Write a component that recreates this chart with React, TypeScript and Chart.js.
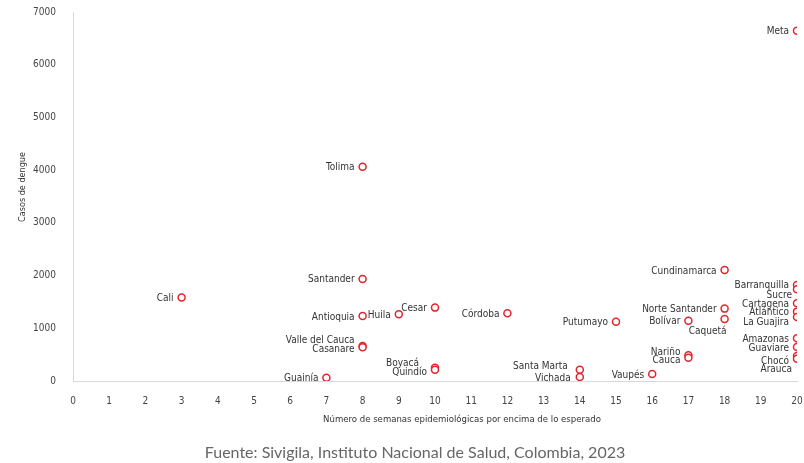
import React, { useEffect, useRef } from "react";
import { Chart, registerables } from "chart.js";

Chart.register(...registerables);

const DEPARTMENTS = [
  "Meta", "Tolima", "Santander", "Cali", "Antioquia", "Huila", "Cesar", "Córdoba",
  "Putumayo", "Valle del Cauca", "Casanare", "Boyacá", "Quindío", "Guainía",
  "Santa Marta", "Vichada", "Vaupés", "Cundinamarca", "Norte Santander", "Bolívar",
  "Caquetá", "Nariño", "Cauca", "Barranquilla", "Sucre", "Cartagena", "Atlántico",
  "La Guajira", "Amazonas", "Guaviare", "Chocó", "Arauca",
];
const WEEKS = [20, 8, 8, 3, 8, 9, 10, 12, 15, 8, 8, 10, 10, 7, 14, 14, 16, 18, 18, 17, 18, 17, 17, 20, 20, 20, 20, 20, 20, 20, 20, 20];
const CASES = [6645, 4063, 1937, 1585, 1234, 1266, 1392, 1285, 1126, 665, 640, 253, 215, 63, 215, 76, 133, 2107, 1373, 1145, 1177, 488, 442, 1823, 1741, 1475, 1316, 1215, 811, 646, 475, 423];

const X_TITLE = "Número de semanas epidemiológicas por encima de lo esperado";
const Y_TITLE = "Casos de dengue";
const SOURCE = "Fuente: Sivigila, Instituto Nacional de Salud, Colombia, 2023";

// label placement nudges (pixels) relative to default left-of-point position
const LABEL_NUDGE: Record<string, [number, number]> = {
  "Valle del Cauca": [0, -7],
  Casanare: [0, 1],
  Boyacá: [-8, -5],
  Quindío: [0, 2],
  "Santa Marta": [-4, -4],
  Vichada: [-1, 0],
  Caquetá: [10, 11],
  Nariño: [0, -4],
  Cauca: [0, 2],
  Sucre: [3, 5],
  "La Guajira": [0, 4],
  Chocó: [0, 4],
  Arauca: [3, 10],
};

const FONT = "'DejaVu Sans Condensed', 'DejaVu Sans', sans-serif";

const labelPlugin = {
  id: "pointLabels",
  afterDatasetsDraw(chart: any) {
    const ctx = chart.ctx;
    const meta = chart.getDatasetMeta(0);
    ctx.save();
    ctx.font = `10px ${FONT}`;
    ctx.fillStyle = "#333333";
    ctx.textAlign = "right";
    ctx.textBaseline = "middle";
    meta.data.forEach((pt: any, i: number) => {
      const name = DEPARTMENTS[i];
      const n = LABEL_NUDGE[name] || [0, 0];
      ctx.fillText(name, pt.x - 8 + n[0], pt.y + 1 + n[1]);
    });
    ctx.restore();
  },
  afterDraw(chart: any) {
    const ctx = chart.ctx;
    ctx.save();
    ctx.fillStyle = "#333333";
    ctx.font = `9.5px ${FONT}`;
    ctx.textAlign = "center";
    ctx.textBaseline = "middle";
    ctx.fillText(X_TITLE, 462, 420);
    ctx.save();
    ctx.font = `9px ${FONT}`;
    ctx.translate(23, 187);
    ctx.rotate(-Math.PI / 2);
    ctx.fillText(Y_TITLE, 0, 0);
    ctx.restore();
    ctx.font = "16px Lato, sans-serif";
    ctx.fillStyle = "#666666";
    ctx.fillText(SOURCE, 415, 453);
    ctx.restore();
  },
};

export default function App() {
  const ref = useRef<HTMLCanvasElement | null>(null);
  useEffect(() => {
    if (!ref.current) return;
    const chart = new Chart(ref.current, {
      type: "scatter",
      data: {
        datasets: [
          {
            data: WEEKS.map((w, i) => ({ x: w, y: CASES[i] })),
            pointRadius: 3.5,
            pointHoverRadius: 3.5,
            borderWidth: 1.5,
            borderColor: "#e0262c",
            backgroundColor: "#ffffff",
          },
        ],
      },
      options: {
        responsive: false,
        animation: false,
        devicePixelRatio: 1,
        layout: { padding: { left: 0, right: 7, top: 12, bottom: 0 } },
        plugins: { legend: { display: false }, tooltip: { enabled: false } },
        scales: {
          x: {
            type: "linear",
            min: 0,
            max: 20,
            afterFit: (s: any) => { s.height = 82; s.paddingLeft = 0; s.paddingRight = 0; },
            grid: { display: false },
            border: { display: true, color: "#d9d9d9", width: 1 },
            ticks: { stepSize: 1, padding: 6, color: "#444444", font: { family: FONT, size: 10 } },
          },
          y: {
            min: 0,
            max: 7000,
            afterFit: (s: any) => { s.width = 73; s.paddingTop = 0; s.paddingBottom = 0; },
            grid: { display: false },
            border: { display: true, color: "#d9d9d9", width: 1 },
            ticks: {
              stepSize: 1000,
              padding: 9,
              color: "#444444",
              font: { family: FONT, size: 10 },
              callback: (v: any) => String(v),
            },
          },
        },
      },
      plugins: [labelPlugin],
    });
    return () => chart.destroy();
  }, []);
  return (
    <div style={{ position: "fixed", left: 0, top: 0, width: 804, height: 463, background: "#fff" }}>
      <canvas ref={ref} width={804} height={463} style={{ display: "block" }} />
    </div>
  );
}
